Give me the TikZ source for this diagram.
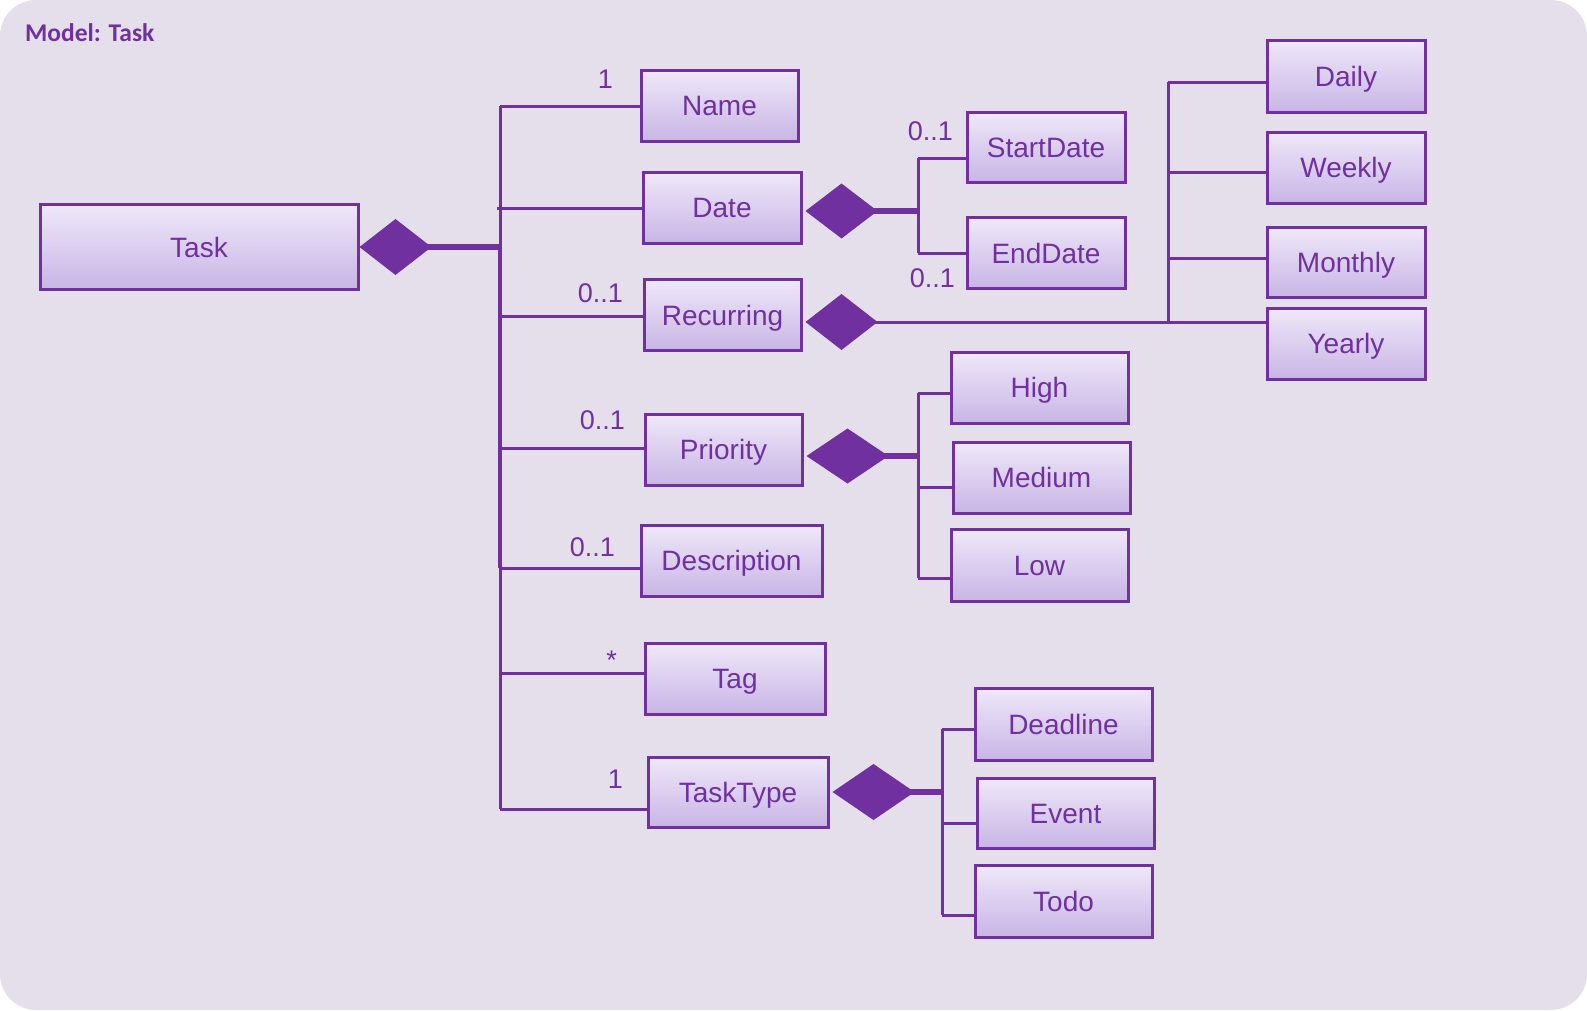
\documentclass[tikz,border=0pt]{standalone}
\usepackage{fontspec}
\setmainfont{Liberation Sans}
\newfontfamily\titlefont{Carlito}
\usetikzlibrary{calc}
\definecolor{umlpurple}{HTML}{7030A0}
\definecolor{bgcol}{HTML}{E5DFEC}
\definecolor{boxtop}{HTML}{EFE8F9}
\definecolor{boxbot}{HTML}{C8B5E5}
\newcommand\umldiamond[4]{%
  \fill[umlpurple] (#1) -- ++(#2/2,#3/2) -- ++(#2/2,-#3/2) coordinate (#4) -- ++(-#2/2,-#3/2) -- cycle;}
\begin{document}
\begin{tikzpicture}[x=1pt,y=-1pt,
  cls/.style={draw=umlpurple, line width=3pt, top color=boxtop, bottom color=boxbot,
    text=umlpurple, font=\fontsize{28}{32}\selectfont, inner sep=0pt,
    text height=20pt, text depth=0pt, minimum height=71pt},
  conn/.style={draw=umlpurple, line width=3pt},
  thk/.style={draw=umlpurple, line width=6pt},
  mult/.style={text=umlpurple, font=\fontsize{27}{30}\selectfont, inner sep=0pt, anchor=base east}]

\useasboundingbox (0,0) rectangle (1587,1010);
\fill[bgcol, rounded corners=36pt] (0,0) rectangle (1587,1010);

\node[anchor=base west, inner sep=0pt, text=umlpurple,
  font=\titlefont\bfseries\fontsize{25.5}{30}\selectfont] (title) at (25,41) {Model: Task};

% classes
\node[cls, minimum width=318pt, minimum height=85pt] (task) at (199,247) {Task};
\node[cls, minimum width=157pt] (name) at (719.5,105.5) {Name};
\node[cls, minimum width=158pt] (date) at (722,207.5) {Date};
\node[cls, minimum width=157pt] (rec) at (722.5,315) {Recurring};
\node[cls, minimum width=157pt] (prio) at (723.5,449.5) {Priority};
\node[cls, minimum width=181pt] (desc) at (731.5,560.5) {Description};
\node[cls, minimum width=180pt] (tag) at (735,678.5) {Tag};
\node[cls, minimum width=180pt, minimum height=70pt] (tt) at (738,792) {TaskType};

\node[cls, minimum width=158pt, minimum height=70pt] (start) at (1046,147) {StartDate};
\node[cls, minimum width=158pt] (end) at (1046,253) {EndDate};

\node[cls, minimum width=158pt, minimum height=72pt] (daily) at (1346,76) {Daily};
\node[cls, minimum width=158pt] (weekly) at (1346,167.5) {Weekly};
\node[cls, minimum width=158pt, minimum height=70pt] (monthly) at (1346,262) {Monthly};
\node[cls, minimum width=158pt] (yearly) at (1346,343.5) {Yearly};

\node[cls, minimum width=177pt] (high) at (1039.5,387.5) {High};
\node[cls, minimum width=177pt] (medium) at (1041.5,477.5) {Medium};
\node[cls, minimum width=177pt, minimum height=72pt] (low) at (1039.5,565) {Low};

\node[cls, minimum width=177pt, minimum height=72pt] (deadline) at (1063.5,724) {Deadline};
\node[cls, minimum width=177pt, minimum height=70pt] (event) at (1065.5,813) {Event};
\node[cls, minimum width=177pt, minimum height=72pt] (todo) at (1063.5,901) {Todo};

% helper coordinates
\coordinate (busx) at (500,0);
\coordinate (yDesc) at (0,568);
\coordinate (yTag) at (0,673);
\coordinate (yTT) at (0,809);
\coordinate (yName) at (0,106);
\coordinate (yDate) at (0,208);
\coordinate (yRec) at (0,316);
\coordinate (yPrio) at (0,448);

% Task composition and bus
\umldiamond{task.east}{72}{56}{ttip}
\draw[thk] ($(ttip)+(-12,0)$) -- (busx |- ttip);
\draw[conn] (busx |- yName) -- (busx |- yTT);
\draw[umlpurple, line width=4.5pt] (busx |- ttip) -- (busx |- yDesc);
\draw[conn] (busx |- yName) -- (name.west |- yName);
\draw[conn] ($(busx |- yDate)+(-3,0)$) -- (date.west |- yDate);
\draw[conn] (busx |- yRec) -- (rec.west |- yRec);
\draw[conn] (busx |- yPrio) -- (prio.west |- yPrio);
\draw[conn] (busx |- yDesc) -- (desc.west |- yDesc);
\draw[conn] (busx |- yTag) -- (tag.west |- yTag);
\draw[conn] (busx |- yTT) -- (tt.west |- yTT);

% multiplicities
\node[mult] (m1) at (613,88) {1};
\node[mult] (m2) at (623,302) {0..1};
\node[mult] (m3) at (625,429) {0..1};
\node[mult] (m4) at (615,556) {0..1};
\node[mult] (m5) at (617,669) {*};
\node[mult] (m6) at (623,788) {1};
\node[mult] (m7) at (953,140) {0..1};
\node[mult] (m8) at (955,287) {0..1};

% Date
\coordinate (dbus) at (918,0);
\coordinate (yStart) at (0,158);
\umldiamond{$(date.east)+(3,3.5)$}{72}{55}{dtip}
\draw[thk] ($(dtip)+(-12,0)$) -- (dbus |- dtip);
\draw[conn] (dbus |- yStart) -- (dbus |- end.west);
\draw[conn] (dbus |- yStart) -- (start.west |- yStart);
\draw[conn] (dbus |- end.west) -- (end.west);

% Recurring
\coordinate (rbus) at (1168,0);
\coordinate (yDaily) at (0,82);
\coordinate (yWeekly) at (0,172);
\coordinate (yMonthly) at (0,258);
\umldiamond{$(rec.east)+(3,7)$}{72}{56}{rtip}
\draw[conn] ($(rtip)+(-8,0)$) -- (yearly.west |- rtip);
\draw[conn] (rbus |- yDaily) -- (rbus |- rtip);
\draw[conn] (rbus |- yDaily) -- (daily.west |- yDaily);
\draw[conn] (rbus |- yWeekly) -- (weekly.west |- yWeekly);
\draw[conn] (rbus |- yMonthly) -- (monthly.west |- yMonthly);

% Priority
\coordinate (pbus) at (918,0);
\coordinate (yHigh) at (0,393);
\coordinate (yMed) at (0,487);
\coordinate (yLow) at (0,578);
\umldiamond{$(prio.east)+(3,6.5)$}{82}{55}{ptip}
\draw[thk] ($(ptip)+(-12,0)$) -- (pbus |- ptip);
\draw[conn] (pbus |- yHigh) -- (pbus |- yLow);
\draw[conn] (pbus |- yHigh) -- (high.west |- yHigh);
\draw[conn] (pbus |- yMed) -- (medium.west |- yMed);
\draw[conn] (pbus |- yLow) -- (low.west |- yLow);

% TaskType
\coordinate (kbus) at (942,0);
\coordinate (yDead) at (0,729);
\coordinate (yEvent) at (0,823);
\coordinate (yTodo) at (0,915);
\umldiamond{$(tt.east)+(3,0)$}{82}{56}{ktip}
\draw[thk] ($(ktip)+(-12,0)$) -- (kbus |- ktip);
\draw[conn] (kbus |- yDead) -- (kbus |- yTodo);
\draw[conn] (kbus |- yDead) -- (deadline.west |- yDead);
\draw[conn] (kbus |- yEvent) -- (event.west |- yEvent);
\draw[conn] (kbus |- yTodo) -- (todo.west |- yTodo);
\end{tikzpicture}
\end{document}
